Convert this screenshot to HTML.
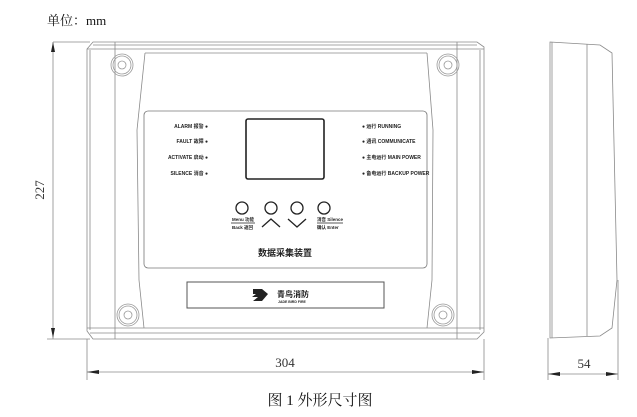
<!DOCTYPE html>
<html><head><meta charset="utf-8"><style>
html,body{margin:0;padding:0;background:#fff;}
svg{display:block;}
text{font-family:"Liberation Serif","Noto Serif CJK SC",serif;}
.s text, text.s{font-family:"Liberation Sans","Noto Sans CJK SC",sans-serif;font-weight:bold;fill:#222;}
</style></head><body>
<svg width="637" height="417" viewBox="0 0 637 417" xmlns="http://www.w3.org/2000/svg">
<g fill="none" stroke="#8a8a8a" stroke-width="0.8">
<path d="M93,42 L477,42 L484,47 L484,332 L477,339 L93,339 L87,331 L87,49 Z"/>
<line x1="93" y1="45" x2="477" y2="45"/>
<line x1="87" y1="49" x2="484" y2="49"/>
<line x1="90" y1="50" x2="90" y2="330"/>
<line x1="480" y1="50" x2="480" y2="330"/>
<line x1="115" y1="42" x2="115" y2="339"/>
<line x1="457" y1="42" x2="457" y2="339"/>
<polyline points="145,53 137,130 139,280 144,328"/>
<polyline points="427,53 433,130 432,280 427,328"/>
<line x1="145" y1="53" x2="427" y2="53"/>
<line x1="87" y1="328" x2="484" y2="328"/>
<line x1="90" y1="333" x2="480" y2="333"/>
<g stroke="#999">
<circle cx="122" cy="65" r="11"/><circle cx="122" cy="65" r="9"/><circle cx="122" cy="65" r="4"/>
<circle cx="448" cy="65" r="11"/><circle cx="448" cy="65" r="9"/><circle cx="448" cy="65" r="4"/>
<circle cx="128" cy="315" r="11"/><circle cx="128" cy="315" r="9"/><circle cx="128" cy="315" r="4"/>
<circle cx="443" cy="315" r="11"/><circle cx="443" cy="315" r="9"/><circle cx="443" cy="315" r="4"/>
</g>
<rect x="144" y="111" width="283" height="157" rx="4" stroke="#777"/>
<rect x="187" y="282" width="197" height="26" stroke="#555" stroke-width="1"/>
<path d="M550,42 L600,45 L612,53 L617,280 L612,328 L600,336 L550,338 Z"/>
<line x1="587" y1="44" x2="587" y2="336" />
<line x1="552" y1="42" x2="552" y2="338"/>
<line x1="53" y1="42" x2="90" y2="42"/>
<line x1="47" y1="339" x2="90" y2="339"/>
<line x1="53" y1="42" x2="53" y2="339"/>
<line x1="87" y1="339" x2="87" y2="380"/>
<line x1="484" y1="339" x2="484" y2="380"/>
<line x1="87" y1="372" x2="484" y2="372"/>
<line x1="548" y1="338" x2="548" y2="380"/>
<line x1="618" y1="280" x2="618" y2="380"/>
<line x1="548" y1="374" x2="618" y2="374"/>
</g>
<g fill="#222">
<path d="M53,42 L51,52 L55,52 Z"/><path d="M53,338 L51,328 L55,328 Z"/>
<path d="M87,372 L99,370 L99,374 Z"/><path d="M484,372 L472,370 L472,374 Z"/>
<path d="M548,374 L560,372 L560,376 Z"/><path d="M618,374 L606,372 L606,376 Z"/>
</g>
<rect x="246" y="119" width="78" height="60" rx="2" fill="none" stroke="#222" stroke-width="1.6"/>
<g class="s" font-size="5" text-anchor="end">
<text x="208" y="128">ALARM 报警 ●</text>
<text x="208" y="143">FAULT 故障 ●</text>
<text x="208" y="159">ACTIVATE 启动 ●</text>
<text x="208" y="175">SILENCE 消音 ●</text>
</g>
<g class="s" font-size="5">
<text x="362" y="128">● 运行 RUNNING</text>
<text x="362" y="143">● 通讯 COMMUNICATE</text>
<text x="362" y="159">● 主电运行 MAIN POWER</text>
<text x="362" y="175">● 备电运行 BACKUP POWER</text>
</g>
<g fill="none" stroke="#222" stroke-width="1.3">
<circle cx="242" cy="208" r="6"/><circle cx="271" cy="208" r="6"/><circle cx="297" cy="208" r="6"/><circle cx="324" cy="208" r="6"/>
<polyline points="262,227 271,219 280,227"/>
<polyline points="288,219 297,227 306,219"/>
<line x1="231" y1="223" x2="255" y2="223" stroke-width="0.8"/>
<line x1="317" y1="223" x2="343" y2="223" stroke-width="0.8"/>
</g>
<g class="s" font-size="4.5">
<text x="232" y="221">Menu 功能</text><text x="232" y="229">Back 返回</text>
<text x="317" y="221">消音 Silence</text><text x="317" y="229">确认 Enter</text>
</g>
<text class="s" x="285" y="256" font-size="9" text-anchor="middle">数据采集装置</text>
<path d="M253,289 L262,289 L268,294 L262,301 L253,301 L258,297 L252,297 L256,294 L253,294 Z" fill="#222"/>
<text class="s" x="277" y="297" font-size="8">青鸟消防</text>
<text class="s" x="278" y="303" font-size="3.5">JADE BIRD FIRE</text>
<text x="47" y="25" font-size="13" fill="#111">单位：mm</text>
<text x="285" y="367" font-size="13" fill="#333" text-anchor="middle">304</text>
<text x="584" y="368" font-size="13" fill="#333" text-anchor="middle">54</text>
<text x="0" y="0" font-size="13" fill="#333" text-anchor="middle" transform="translate(44,190) rotate(-90)">227</text>
<text x="320" y="405" font-size="15" fill="#111" text-anchor="middle">图 1  外形尺寸图</text>
</svg>
</body></html>
